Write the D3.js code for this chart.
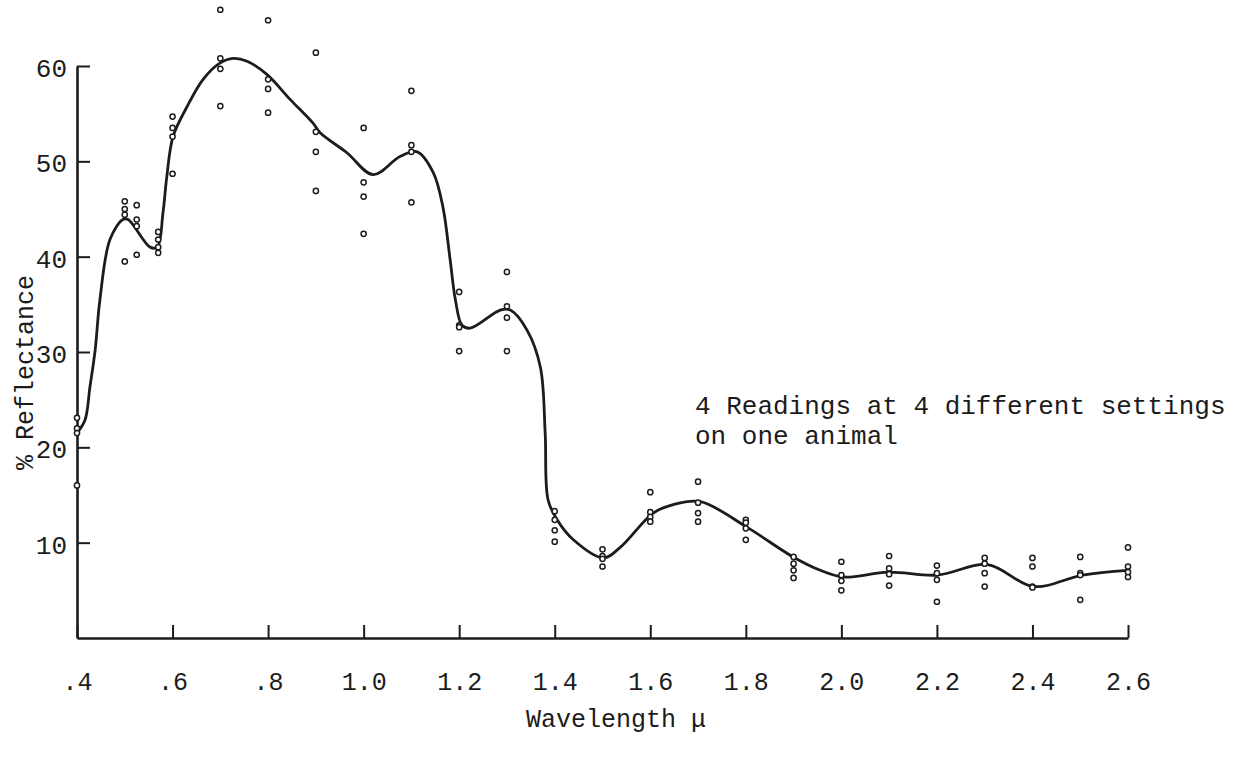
<!DOCTYPE html>
<html>
<head>
<meta charset="utf-8">
<script src="https://cdn.jsdelivr.net/npm/d3@7"></script>
<style>
  html, body { margin: 0; padding: 0; background: #fff; }
  svg { display: block; }
  text { font-family: "Liberation Mono", "DejaVu Sans Mono", monospace; fill: #1c1c1c; }
  .axis path, .axis line { stroke: #1c1c1c; }
</style>
</head>
<body>
<svg width="1239" height="767"></svg>
<script>
"use strict";
// wavelengths (micron) at which readings were taken
const readingWavelengths = [0.4, 0.5, 0.525, 0.57, 0.6, 0.7, 0.8, 0.9, 1.0, 1.1, 1.2, 1.3, 1.4, 1.5,
    1.6, 1.7, 1.8, 1.9, 2.0, 2.1, 2.2, 2.3, 2.4, 2.5, 2.6];
// four readings (% reflectance) at each wavelength
const readingA = [23.1, 45.8, 45.4, 42.6, 54.7, 65.9, 64.8, 61.4, 53.5, 57.4, 36.3, 38.4, 13.3, 9.3,
    15.3, 16.4, 12.4, 8.5, 8.0, 8.6, 7.6, 8.4, 8.4, 8.5, 9.5];
const readingB = [22.0, 45.0, 43.9, 41.8, 53.5, 60.8, 58.6, 53.1, 47.8, 51.7, 32.8, 34.8, 12.4, 8.6,
    13.2, 14.2, 12.1, 7.8, 6.6, 7.3, 6.8, 7.8, 7.5, 6.8, 7.5];
const readingC = [21.5, 44.4, 43.2, 41.0, 52.6, 59.7, 57.6, 51.0, 46.3, 51.0, 32.6, 33.6, 11.3, 8.3,
    12.7, 13.1, 11.5, 7.1, 6.0, 6.7, 6.1, 6.8, 5.4, 6.6, 6.9];
const readingD = [16.0, 39.5, 40.2, 40.4, 48.7, 55.8, 55.1, 46.9, 42.4, 45.7, 30.1, 30.1, 10.1, 7.5,
    12.2, 12.2, 10.3, 6.3, 5.0, 5.5, 3.8, 5.4, 5.3, 4.0, 6.4];

// hand-drawn smooth curve through the readings
const curveWavelengths = [0.4, 0.417, 0.427, 0.438, 0.448, 0.469, 0.496, 0.507, 0.553, 0.568, 0.58,
    0.588, 0.601, 0.63, 0.664, 0.699, 0.727, 0.756, 0.798, 0.846, 0.894, 0.909, 0.965, 1.02, 1.076,
    1.112, 1.146, 1.166, 1.181, 1.192, 1.206, 1.223, 1.286, 1.307, 1.342, 1.37, 1.38, 1.386, 1.405,
    1.439, 1.502, 1.537, 1.606, 1.648, 1.705, 1.803, 1.899, 1.956, 2.004, 2.098, 2.201, 2.306, 2.402,
    2.505, 2.6];
const curveReflectance = [21.5, 22.9, 26.3, 30.2, 35.5, 41.8, 43.9, 43.9, 41.0, 41.0, 44.6,
    48.4, 52.6, 55.7, 58.6, 60.3, 60.8, 60.5, 59.1, 56.5, 54.0, 53.0, 50.9, 48.6, 50.5,
    51.0, 48.8, 45.2, 39.7, 35.5, 32.8, 32.5, 34.4, 34.4, 32.3, 28.4, 21.5, 14.5, 12.4,
    10.3, 8.4, 9.5, 13.1, 14.0, 14.3, 11.6, 8.5, 7.1, 6.4, 6.9, 6.6, 7.7, 5.4,
    6.6, 7.1];

const xTicks = [0.4, 0.6, 0.8, 1.0, 1.2, 1.4, 1.6, 1.8, 2.0, 2.2, 2.4, 2.6];
const yTicks = [10, 20, 30, 40, 50, 60];
const noteLines = ["4 Readings at 4 different settings", "on one animal"];

const svg = d3.select("svg");
const ink = "#1c1c1c";

const x = d3.scaleLinear()
    .domain([0.4, 2.6])
    .range([77, 1128]);
const y = d3.scaleLinear()
    .domain([0, 60])
    .range([638, 66]);

// x axis, ticks pointing up into the plot
svg.append("g")
    .attr("class", "axis")
    .attr("transform", `translate(0, ${y(0)})`)
    .call(d3.axisBottom(x)
        .tickValues(xTicks)
        .tickSizeInner(-13)
        .tickSizeOuter(0)
        .tickPadding(34)
        .tickFormat(d => d < 1 ? d3.format(".1f")(d).replace(/^0/, "") : d3.format(".1f")(d)))
    .call(g => g.select(".domain").attr("stroke-width", 2.6))
    .call(g => g.selectAll(".tick line").attr("stroke-width", 2))
    .call(g => g.selectAll("text").attr("font-size", 25).attr("fill", ink));

// y axis, ticks pointing right
svg.append("g")
    .attr("class", "axis")
    .attr("transform", `translate(${x(0.4)}, 0)`)
    .call(d3.axisLeft(y)
        .tickValues(yTicks)
        .tickSizeInner(-13)
        .tickSizeOuter(0)
        .tickPadding(10))
    .call(g => g.select(".domain").attr("stroke-width", 2.6))
    .call(g => g.selectAll(".tick line").attr("stroke-width", 2))
    .call(g => g.selectAll("text").attr("font-size", 26).attr("dy", "0.4em").attr("fill", ink));

// smooth curve
const line = d3.line()
    .x((d, i) => x(curveWavelengths[i]))
    .y(d => y(d))
    .curve(d3.curveCatmullRom.alpha(0.5));

svg.append("path")
    .datum(curveReflectance)
    .attr("d", line)
    .attr("fill", "none")
    .attr("stroke", ink)
    .attr("stroke-width", 2.8)
    .attr("stroke-linejoin", "round");

// readings as small open circles
const readings = [readingA, readingB, readingC, readingD]
    .flatMap(series => series.map((v, i) => [readingWavelengths[i], v]));

svg.append("g")
    .selectAll("circle")
    .data(readings)
    .join("circle")
    .attr("cx", d => x(d[0]))
    .attr("cy", d => y(d[1]))
    .attr("r", 2.6)
    .attr("fill", "#fff")
    .attr("stroke", ink)
    .attr("stroke-width", 1.5);

// note
svg.append("text")
    .attr("x", 695)
    .attr("y", 414)
    .attr("font-size", 26)
    .selectAll("tspan")
    .data(noteLines)
    .join("tspan")
    .attr("x", 695)
    .attr("dy", (d, i) => i === 0 ? 0 : 30)
    .text(d => d);

// axis titles
svg.append("text")
    .attr("transform", "translate(33, 470) rotate(-90)")
    .attr("font-size", 25)
    .text("% Reflectance");

svg.append("text")
    .attr("x", 616)
    .attr("y", 727)
    .attr("text-anchor", "middle")
    .attr("font-size", 25)
    .text("Wavelength \u03bc");
</script>
</body>
</html>
